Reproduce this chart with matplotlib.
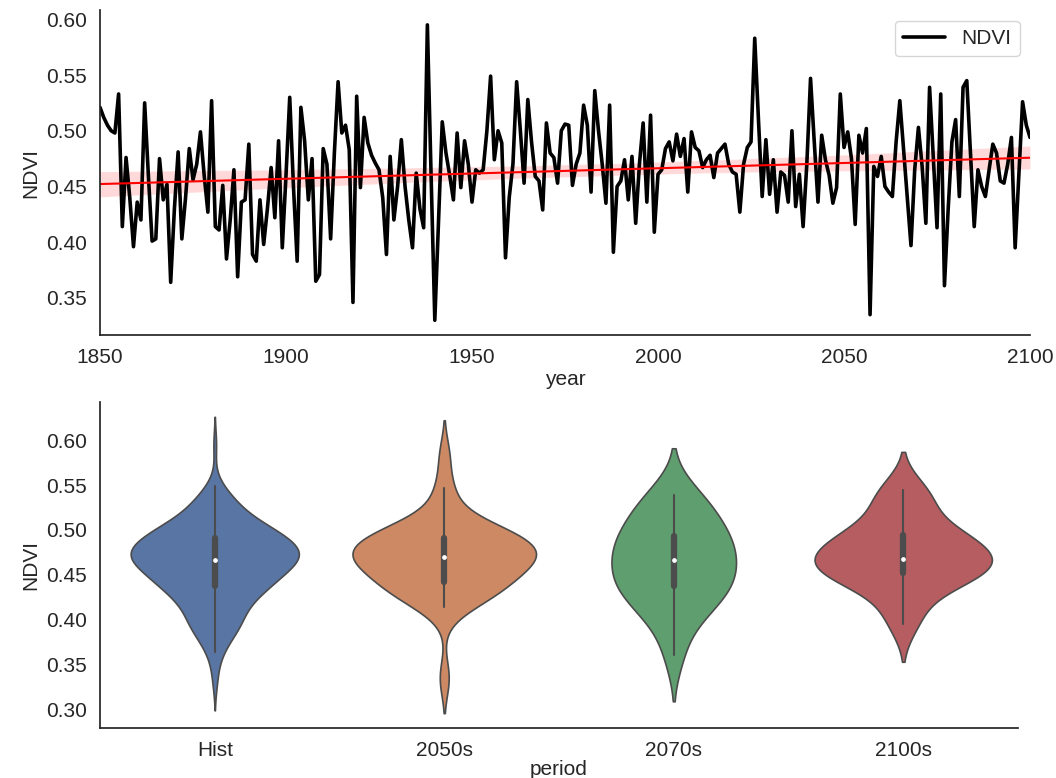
import matplotlib
matplotlib.use("Agg")
import matplotlib.pyplot as plt
from matplotlib.ticker import MultipleLocator, FormatStrFormatter
import numpy as np
import pandas as pd
import seaborn as sns

# yearly NDVI, 1850-2100
ndvi = [
    0.521, 0.512, 0.505, 0.500, 0.498, 0.533, 0.414, 0.476, 0.440, 0.396,  # 1850s
    0.436, 0.420, 0.525, 0.460, 0.401, 0.403, 0.475, 0.438, 0.452, 0.364,  # 1860s
    0.430, 0.481, 0.403, 0.440, 0.484, 0.456, 0.470, 0.499, 0.460, 0.427,  # 1870s
    0.527, 0.414, 0.411, 0.451, 0.385, 0.420, 0.465, 0.369, 0.436, 0.438,  # 1880s
    0.488, 0.389, 0.383, 0.438, 0.398, 0.430, 0.467, 0.422, 0.491, 0.395,  # 1890s
    0.460, 0.530, 0.450, 0.383, 0.521, 0.491, 0.438, 0.475, 0.365, 0.371,  # 1900s
    0.484, 0.470, 0.403, 0.480, 0.544, 0.498, 0.505, 0.483, 0.346, 0.531,  # 1910s
    0.449, 0.512, 0.489, 0.478, 0.471, 0.465, 0.440, 0.389, 0.477, 0.420,  # 1920s
    0.450, 0.492, 0.450, 0.420, 0.395, 0.462, 0.430, 0.413, 0.595, 0.460,  # 1930s
    0.330, 0.420, 0.508, 0.480, 0.460, 0.438, 0.498, 0.449, 0.491, 0.470,  # 1940s
    0.436, 0.465, 0.462, 0.465, 0.500, 0.549, 0.474, 0.500, 0.489, 0.386,  # 1950s
    0.440, 0.470, 0.544, 0.500, 0.453, 0.528, 0.490, 0.459, 0.455, 0.429,  # 1960s
    0.507, 0.480, 0.476, 0.453, 0.500, 0.506, 0.505, 0.451, 0.470, 0.480,  # 1970s
    0.523, 0.505, 0.445, 0.536, 0.500, 0.470, 0.435, 0.523, 0.391, 0.450,  # 1980s
    0.455, 0.474, 0.438, 0.477, 0.417, 0.470, 0.507, 0.436, 0.514, 0.409,  # 1990s
    0.461, 0.465, 0.484, 0.490, 0.473, 0.497, 0.477, 0.493, 0.445, 0.499,  # 2000s
    0.485, 0.482, 0.467, 0.474, 0.478, 0.458, 0.480, 0.484, 0.488, 0.470,  # 2010s
    0.463, 0.461, 0.427, 0.470, 0.485, 0.490, 0.583, 0.510, 0.441, 0.492,  # 2020s
    0.443, 0.474, 0.427, 0.463, 0.460, 0.436, 0.500, 0.432, 0.461, 0.414,  # 2030s
    0.470, 0.547, 0.490, 0.436, 0.496, 0.474, 0.460, 0.435, 0.449, 0.533,  # 2040s
    0.485, 0.499, 0.475, 0.416, 0.496, 0.480, 0.502, 0.335, 0.468, 0.459,  # 2050s
    0.477, 0.450, 0.445, 0.441, 0.490, 0.527, 0.484, 0.440, 0.397, 0.465,  # 2060s
    0.503, 0.468, 0.417, 0.539, 0.476, 0.413, 0.533, 0.361, 0.430, 0.490,  # 2070s
    0.510, 0.441, 0.539, 0.545, 0.480, 0.414, 0.465, 0.450, 0.441, 0.465,  # 2080s
    0.488, 0.480, 0.455, 0.453, 0.470, 0.494, 0.395, 0.460, 0.526, 0.505,  # 2090s
    0.494,                                                                 # 2100
]
first_year = 1850

# periods for the violins: label and last year of each
periods = ["Hist", "2050s", "2070s", "2100s"]
period_end = [2020, 2060, 2080, 2100]

years = np.arange(first_year, first_year + len(ndvi))
df = pd.DataFrame({"year": years, "NDVI": ndvi})
df["period"] = pd.cut(df["year"], bins=[first_year - 1] + period_end,
                      labels=periods)

sns.set_theme(style="white")
plt.rcParams["font.family"] = ["Liberation Sans", "DejaVu Sans"]
fs = 15

fig = plt.figure(figsize=(10.56, 7.78), dpi=100)
ax1 = fig.add_axes([0.0947, 0.5694, 0.8807, 0.4176])
ax2 = fig.add_axes([0.0947, 0.0643, 0.8693, 0.4190])

# top: time series + linear trend
ax1.plot(df["year"], df["NDVI"], color="black", lw=2.6, label="NDVI")
sns.regplot(x="year", y="NDVI", data=df, scatter=False, ax=ax1,
            color="red", line_kws={"lw": 1.5})
ax1.set_xlim(1850, 2100)
ax1.set_xlabel("year", fontsize=fs, labelpad=2)
ax1.set_ylabel("NDVI", fontsize=fs)
ax1.tick_params(labelsize=fs)
ax1.yaxis.set_major_locator(MultipleLocator(0.05))
ax1.yaxis.set_major_formatter(FormatStrFormatter("%.2f"))
ax1.legend(loc="upper right", fontsize=fs)

# bottom: violins per period (same area for all)
sns.violinplot(data=df, x="period", y="NDVI", hue="period", palette="deep",
               legend=False, ax=ax2, linewidth=1.2, common_norm=True,
               inner_kws={"marker": "o", "box_width": 4.5, "markersize": 2.5})
ax2.set_xlabel("period", fontsize=fs, labelpad=0)
ax2.set_ylabel("NDVI", fontsize=fs)
ax2.tick_params(labelsize=fs)
ax2.yaxis.set_major_locator(MultipleLocator(0.05))
ax2.yaxis.set_major_formatter(FormatStrFormatter("%.2f"))

sns.despine(fig=fig)
fig.savefig("out.png", dpi=100)
